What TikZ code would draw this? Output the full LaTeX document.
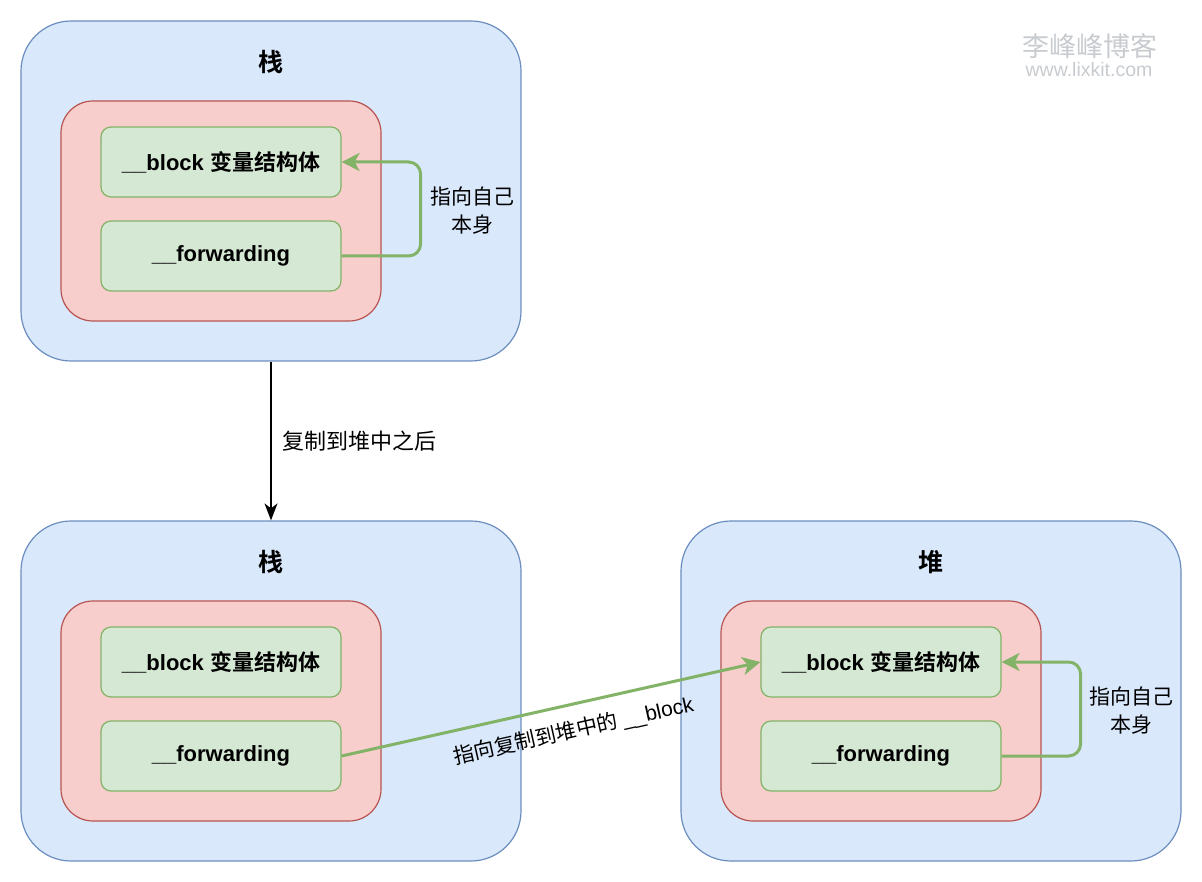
\documentclass[tikz,border=0pt]{standalone}
\usepackage{fontspec}
\setmainfont{Liberation Sans}
\newfontfamily\cjk{Noto Sans CJK SC}[BoldFont={Noto Sans CJK SC Bold}]
\usetikzlibrary{arrows.meta}
\definecolor{bfill}{HTML}{DAE8FC}
\definecolor{bline}{HTML}{6C8EBF}
\definecolor{rfill}{HTML}{F8CECC}
\definecolor{rline}{HTML}{B85450}
\definecolor{gfill}{HTML}{D5E8D4}
\definecolor{gline}{HTML}{82B366}
\definecolor{wmark}{HTML}{C8CCD0}
\tikzset{
  bluebox/.style={draw=bline, fill=bfill, line width=1.2pt, rounded corners=50pt, minimum width=500pt, minimum height=340pt, inner sep=0pt},
  redbox/.style={draw=rline, fill=rfill, line width=1.2pt, rounded corners=32pt, minimum width=320pt, minimum height=220pt, inner sep=0pt},
  greenbox/.style={draw=gline, fill=gfill, line width=1.2pt, rounded corners=10pt, minimum width=240pt, minimum height=70pt, inner sep=0pt, font=\fontsize{22}{26}\selectfont\bfseries},
  titletext/.style={font=\fontsize{25}{28}\selectfont\cjk\bfseries},
  lbl/.style={font=\fontsize{21}{28}\selectfont\cjk, align=center, inner sep=1pt},
  garrow/.style={draw=gline, line width=3pt, rounded corners=12pt, -{Stealth[length=18pt,width=18pt,inset=5pt]}},
  karrow/.style={draw=black, line width=1.5pt, -{Stealth[length=17pt,width=13pt,inset=5pt]}}
}
\newcommand{\blk}{\_\_block {\cjk\bfseries 变量结构体}}
\begin{document}
\begin{tikzpicture}[x=1pt,y=-1pt]
\useasboundingbox[fill=white] (0,0) rectangle (1202,882);
% watermark
\node[text=wmark, font=\fontsize{27}{30}\selectfont\cjk, inner sep=0pt] (wm1) at (1090,46) {李峰峰博客};
\node[text=wmark, font=\fontsize{19.5}{22}\selectfont, inner sep=0pt] (wm2) at (1089,70) {www.lixkit.com};
% top stack
\node[bluebox] (s1) at (271,191) {};
\node[titletext] (t1) at (271,62) {栈};
\node[redbox] (r1) at (221,211) {};
\node[greenbox] (b1) at (221,162) {\blk};
\node[greenbox] (f1) at (221,256) {\_\_forwarding};
\draw[garrow] (f1.east) -- ++(79,0) |- (b1.east);
\node[lbl] (l1) at (472,211) {指向自己\\本身};
% bottom stack
\node[bluebox] (s2) at (271,691) {};
\node[titletext] (t2) at (271,562) {栈};
\node[redbox] (r2) at (221,711) {};
\node[greenbox] (b2) at (221,662) {\blk};
\node[greenbox] (f2) at (221,756) {\_\_forwarding};
% heap
\node[bluebox] (s3) at (931,691) {};
\node[titletext] (t3) at (931,562) {堆};
\node[redbox] (r3) at (881,711) {};
\node[greenbox] (b3) at (881,662) {\blk};
\node[greenbox] (f3) at (881,756) {\_\_forwarding};
\draw[garrow] (f3.east) -- ++(79,0) |- (b3.east);
\node[lbl] (l3) at (1131,711) {指向自己\\本身};
% copy arrow
\draw[karrow] (s1.south) -- (s2.north) node[midway, right=10pt, lbl, anchor=west, font=\fontsize{22}{28}\selectfont\cjk] {复制到堆中之后};
% pointer arrow
\draw[garrow] (f2.east) -- (b3.west) node[pos=0.54, sloped, below=13pt, lbl] {指向复制到堆中的 {\fontspec{Liberation Sans}\_\_block}};
\end{tikzpicture}
\end{document}
